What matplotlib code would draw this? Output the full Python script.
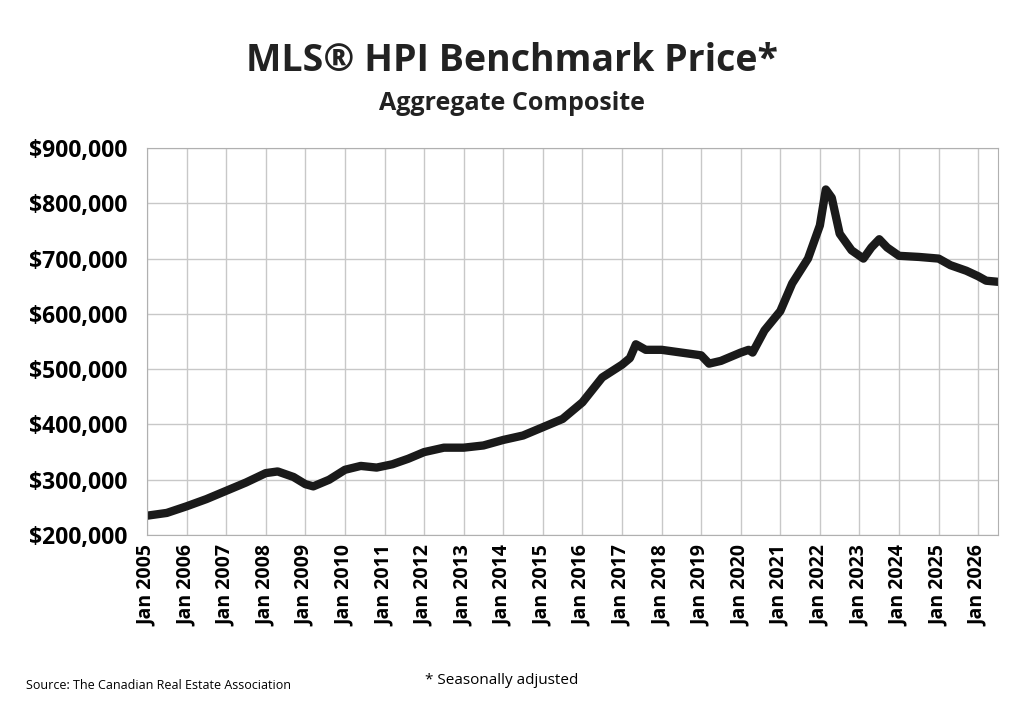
import matplotlib
matplotlib.use("Agg")
from matplotlib import pyplot as plt
import matplotlib.ticker as mticker

# (decimal year, benchmark price)
years = [2005.0, 2005.5, 2006.0, 2006.5, 2007.0, 2007.5, 2008.0, 2008.3, 2008.7, 2009.0,
         2009.2, 2009.6, 2010.0, 2010.4, 2010.8, 2011.2, 2011.6, 2012.0, 2012.5, 2013.0,
         2013.5, 2014.0, 2014.5, 2015.0, 2015.5, 2016.0, 2016.5, 2017.0, 2017.2, 2017.35,
         2017.6, 2018.0, 2018.5, 2019.0, 2019.2, 2019.5, 2020.0, 2020.2, 2020.3, 2020.6,
         2021.0, 2021.3, 2021.7, 2022.0, 2022.15, 2022.3, 2022.5, 2022.8, 2023.1, 2023.3,
         2023.5, 2023.7, 2024.0, 2024.5, 2025.0, 2025.3, 2025.7, 2026.0, 2026.2, 2026.5]
prices = [235, 240, 252, 265, 280, 295, 312, 315, 305, 292,
          288, 300, 318, 325, 322, 328, 338, 350, 358, 358,
          362, 372, 380, 395, 410, 440, 485, 508, 520, 545,
          535, 535, 530, 525, 510, 515, 530, 535, 530, 570,
          605, 655, 700, 760, 825, 810, 745, 715, 700, 720,
          735, 720, 705, 703, 700, 688, 678, 668, 660, 658]
prices = [p * 1000 for p in prices]
tick_years = list(range(2005, 2027))
tick_labels = [f"Jan {y}" for y in tick_years]

plt.rcParams['font.family'] = ['Open Sans', 'DejaVu Sans']

fig = plt.figure(figsize=(10.24, 7.15), dpi=100)
ax = fig.add_axes([0.1436, 0.2517, 0.831, 0.5413])
ax.plot(years, prices, color="#1a1a1a", lw=6, solid_capstyle="round",
        solid_joinstyle="round")

ax.set_xlim(2005, 2026.5)
ax.set_ylim(200000, 900000)
ax.set_xticks(tick_years)
ax.set_xticklabels(tick_labels, rotation=90, fontsize=14, fontweight="bold")
ax.yaxis.set_major_locator(mticker.MultipleLocator(100000))
ax.yaxis.set_major_formatter(mticker.FuncFormatter(lambda v, p: f"${v:,.0f}"))
for lbl in ax.get_yticklabels():
    lbl.set_fontsize(16.5)
    lbl.set_fontweight("bold")
ax.tick_params(axis="y", length=0, pad=14)
ax.tick_params(axis="x", length=0, pad=7)
ax.grid(True, color="#c8c8c8", lw=1)
for s in ax.spines.values():
    s.set_color("#b0b0b0")

fig.text(0.5, 0.915, "MLS® HPI Benchmark Price*", ha="center", va="center",
         fontsize=27, fontweight="bold", color="#222222")
fig.text(0.5, 0.855, "Aggregate Composite", ha="center", va="center",
         fontsize=18, fontweight="bold", color="#222222")
fig.text(0.025, 0.037, "Source: The Canadian Real Estate Association", fontsize=9)
fig.text(0.49, 0.043, "* Seasonally adjusted", ha="center", fontsize=11)

fig.savefig("out.png", dpi=100)
